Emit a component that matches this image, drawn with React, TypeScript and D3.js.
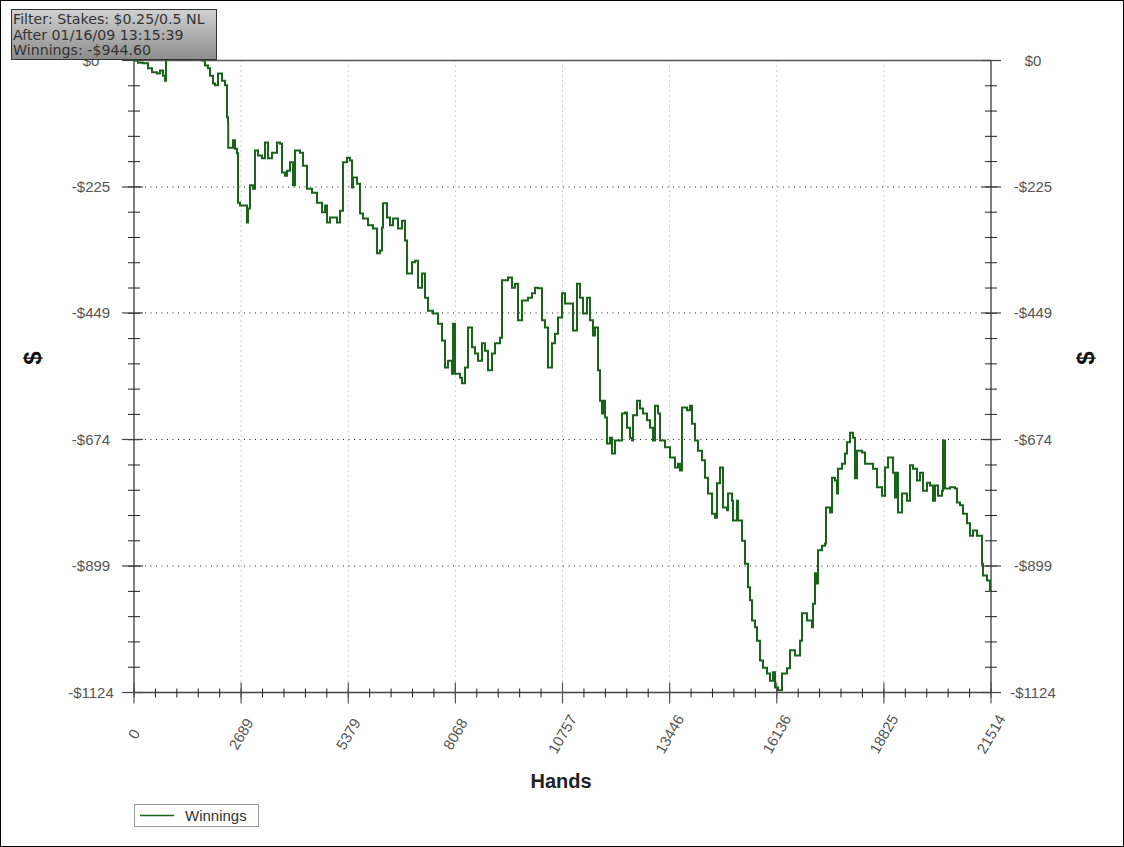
import React from "react";
import * as d3 from "d3";

const hands = [0,100,226,351,452,577,653,728,778,803,1029,1356,1657,1707,1782,1858,1908,1983,2033,2109,2209,2284,2335,2360,2365,2485,2536,2586,2611,2661,2837,2862,2912,2987,3038,3113,3213,3289,3364,3464,3590,3665,3715,3791,3841,3916,3992,4042,4167,4243,4343,4469,4594,4720,4795,4845,4920,5096,5171,5247,5347,
5422,5473,5498,5598,5674,5749,5874,6000,6100,6176,6226,6251,6351,6427,6502,6627,6728,6803,6853,6979,7054,7130,7230,7305,7381,7506,7632,7732,7807,7883,7983,8008,8058,8184,8234,8309,8385,8485,8560,8636,8736,8812,8887,8987,9063,9188,9238,9389,9489,9565,9640,9740,9891,9991,10067,10142,10242,10318,10393,10493,10569,10644,10745,10820,10945,11021,11121,11196,11272,11372,11447,
11523,11573,11648,11698,11749,11774,11824,11874,11950,12000,12075,12201,12251,12326,12376,12451,12502,12527,12627,12703,12778,12878,12954,13029,13079,13155,13205,13330,13456,13581,13657,13707,13757,13882,13958,14008,14083,14159,14259,14334,14410,14510,14585,14636,14711,14786,14887,14912,15012,15037,15138,15163,15263,15338,15414,15464,15514,15590,15640,15715,15790,15891,15966,16041,16092,16167,16267,16393,16468,
16594,16719,16769,16895,17021,17046,17096,17146,17171,17272,17347,17372,17473,17522,17598,17648,17673,17774,17849,17899,17974,18050,18100,18150,18276,18351,18477,18552,18652,18778,18853,18928,19054,19104,19154,19179,19280,19405,19481,19556,19656,19732,19807,19907,19983,20058,20108,20184,20284,20309,20359,20485,20610,20661,20736,20811,20912,20987,21062,21163,21238,21288,21313,21414,21489,21514];

const winnings = [0,-4,-5,-14,-21,-23,-18,-27,-36,9,21,14,18,0,-9,-14,-27,-41,-44,-23,-36,-44,-101,-110,-155,-142,-157,-165,-253,-258,-288,-263,-222,-228,-160,-169,-174,-146,-174,-164,-146,-148,-199,-205,-196,-181,-222,-160,-164,-187,-228,-235,-253,-270,-258,-288,-279,-288,-267,-181,-173,
-178,-226,-208,-219,-272,-281,-293,-299,-343,-338,-297,-254,-279,-293,-281,-299,-285,-320,-379,-359,-356,-404,-379,-422,-445,-450,-468,-498,-546,-534,-557,-468,-557,-564,-574,-546,-475,-510,-521,-534,-503,-516,-551,-521,-503,-493,-391,-386,-404,-397,-462,-427,-422,-414,-404,-405,-462,-475,-546,-503,-486,-457,-414,-432,-432,-480,-397,-422,-450,-422,-462,
-489,-475,-551,-605,-628,-605,-635,-681,-671,-699,-676,-676,-628,-626,-653,-671,-676,-631,-605,-619,-628,-640,-653,-676,-614,-628,-676,-688,-706,-724,-717,-729,-617,-622,-614,-646,-676,-694,-711,-742,-770,-806,-813,-752,-724,-795,-800,-770,-783,-818,-783,-818,-854,-895,-937,-960,-996,-1008,-1032,-1067,-1080,-1090,-1103,-1088,-1115,-1120,-1090,-1081,-1049,
-1058,-1032,-983,-996,-1008,-966,-912,-930,-871,-863,-859,-795,-804,-742,-747,-770,-726,-717,-699,-679,-662,-671,-743,-694,-697,-717,-717,-726,-759,-774,-724,-706,-733,-777,-733,-804,-770,-783,-720,-726,-747,-733,-765,-751,-756,-783,-756,-774,-765,-676,-761,-759,-761,-786,-791,-806,-823,-845,-836,-845,-845,-895,-916,-925,-943,-944.6];

const xTicks = [0, 2689, 5379, 8068, 10757, 13446, 16136, 18825, 21514];
const yTicks = [0, -225, -449, -674, -899, -1124];
const filterLines = ["Filter: Stakes: $0.25/0.5 NL", "After 01/16/09 13:15:39", "Winnings: -$944.60"];
const seriesName = "Winnings";

const W = 1124, H = 847;
const L = 134, R = 991, T = 60.5, B = 692.5;

export default function App() {
  const x = d3.scaleLinear().domain([0, 21514]).range([L, R]);
  const y = d3.scaleLinear().domain([-1124, 0]).range([B, T]);
  const line = d3.line<number>().x((_, i) => x(hands[i])).y((d) => y(d)).curve(d3.curveStepAfter);
  const path = line(winnings) || "";
  const xMinor = d3.range(0, 41).map((i) => (21514 * i) / 40);
  const yMinor = d3.range(0, 26).map((i) => (-1124 * i) / 25);
  const fmt = (v: number) => (v < 0 ? "-$" + Math.abs(v) : "$" + v);
  const font = "'Liberation Sans', Arial, sans-serif";
  const green = "#1a631a";

  return (
    <svg width={W} height={H} style={{ position: "absolute", left: 0, top: 0, background: "#fff" }}>
      <rect x={0.5} y={0.5} width={W - 1} height={H - 1} fill="#fff" stroke="#000" strokeWidth={1} />
      {xTicks.slice(1, -1).map((t) => (
        <line key={"gx" + t} x1={x(t)} x2={x(t)} y1={T} y2={B} stroke="#999" strokeWidth={1} strokeDasharray="1,4" />
      ))}
      {yTicks.slice(1, -1).map((t) => (
        <line key={"gy" + t} x1={L} x2={R} y1={y(t)} y2={y(t)} stroke="#222" strokeWidth={1} strokeDasharray="1,4.5" />
      ))}
      <line x1={L} x2={R} y1={y(0)} y2={y(0)} stroke="#555" strokeWidth={1.5} />
      <line x1={L} x2={L} y1={T} y2={B} stroke="#555" strokeWidth={1.5} />
      <line x1={R} x2={R} y1={T} y2={B} stroke="#555" strokeWidth={1.5} />
      <line x1={L} x2={R} y1={B} y2={B} stroke="#444" strokeWidth={1.5} />
      {yMinor.map((t, i) => (
        <g key={"ym" + i}>
          <line x1={L - 6} x2={L + 6} y1={y(t)} y2={y(t)} stroke="#222" strokeWidth={1} />
          <line x1={R - 6} x2={R + 6} y1={y(t)} y2={y(t)} stroke="#222" strokeWidth={1} />
        </g>
      ))}
      {yTicks.map((t) => (
        <g key={"yM" + t}>
          <line x1={L - 12} x2={L + 9} y1={y(t)} y2={y(t)} stroke="#444" strokeWidth={1.2} />
          <line x1={R - 9} x2={R + 10} y1={y(t)} y2={y(t)} stroke="#444" strokeWidth={1.2} />
          <text x={91} y={y(t)} dy="0.35em" textAnchor="middle" fontFamily={font} fontSize={15} fill="#555">{fmt(t)}</text>
          <text x={1033} y={y(t)} dy="0.35em" textAnchor="middle" fontFamily={font} fontSize={15} fill="#555">{fmt(t)}</text>
        </g>
      ))}
      {xMinor.map((t, i) => (
        <line key={"xm" + i} x1={x(t)} x2={x(t)} y1={B - 4} y2={B + 5} stroke="#222" strokeWidth={1} />
      ))}
      {xTicks.map((t) => (
        <g key={"xM" + t}>
          <line x1={x(t)} x2={x(t)} y1={B - 10} y2={B + 11} stroke="#555" strokeWidth={1.2} />
          <text transform={`translate(${x(t)},734) rotate(-60)`} dy="0.35em" textAnchor="middle" fontFamily={font} fontSize={15} fill="#555">{t}</text>
        </g>
      ))}
      <path d={path} fill="none" stroke={green} strokeWidth={2} strokeLinejoin="miter" />
      <text x={561} y={788} textAnchor="middle" fontFamily={font} fontSize={20} fontWeight="bold" fill="#222">Hands</text>
      <text transform="translate(33,358) rotate(-90)" dy="0.35em" textAnchor="middle" fontFamily={font} fontSize={24} fontWeight="bold" fill="#111">$</text>
      <text transform="translate(1086,358) rotate(-90)" dy="0.35em" textAnchor="middle" fontFamily={font} fontSize={24} fontWeight="bold" fill="#111">$</text>
      <rect x={134.5} y={804.5} width={124} height={22} fill="#fff" stroke="#999" strokeWidth={1} />
      <line x1={140} x2={174} y1={815.5} y2={815.5} stroke={green} strokeWidth={1.5} />
      <text x={185} y={821} fontFamily={font} fontSize={15} fill="#333">{seriesName}</text>
      <defs>
        <linearGradient id="fbg" x1="0" y1="0" x2="0" y2="1">
          <stop offset="0" stopColor="#d2d2d2" />
          <stop offset="1" stopColor="#8c8c8c" />
        </linearGradient>
      </defs>
      <rect x={11.5} y={9.5} width={205} height={50} fill="url(#fbg)" stroke="#333" strokeWidth={1} />
      {filterLines.map((s, i) => (
        <text key={s} x={13} y={24 + i * 15.5} fontFamily="'DejaVu Sans', Verdana, sans-serif" fontSize={14.2} fill="#333">{s}</text>
      ))}
    </svg>
  );
}
